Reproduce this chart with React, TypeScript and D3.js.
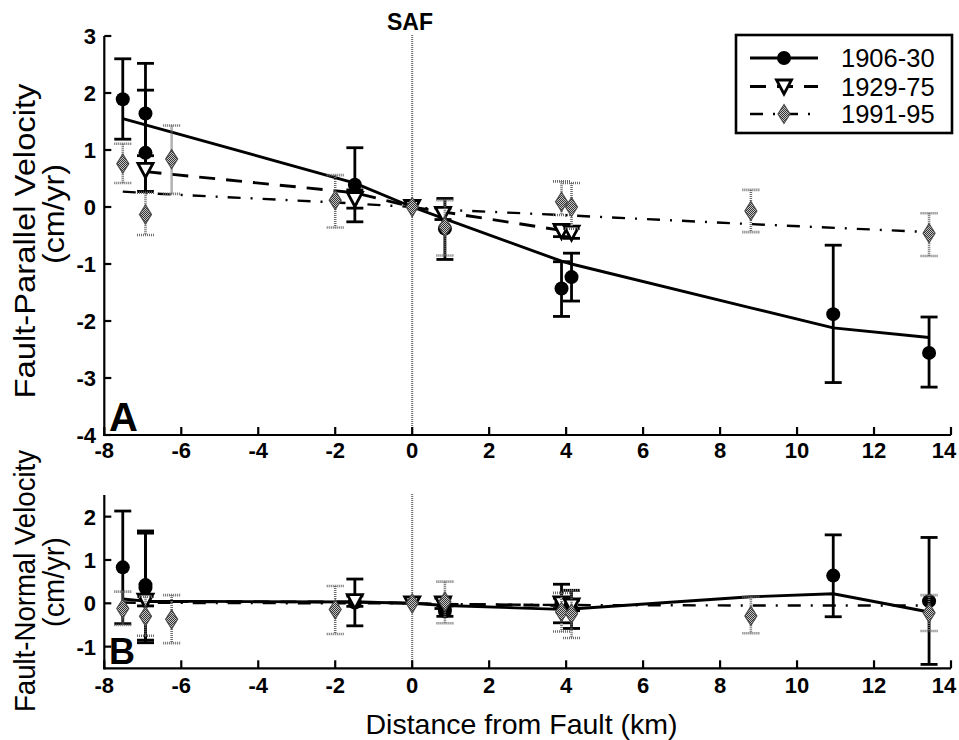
import React from "react";
import * as d3 from "d3";

const W = 959;
const H = 740;

// Station distances from the fault (km)
const x1906 = [-7.52, -6.93, -6.93, -1.49, 0.85, 3.88, 4.14, 10.94, 13.43];
const x1929 = [-6.93, -1.49, 0, 0.8, 3.88, 4.14];
const x1991 = [-7.52, -6.93, -6.25, -2.0, 0, 0.85, 3.88, 4.14, 8.8, 13.43];

// Fault-parallel velocity (cm/yr) and error bar ends
const par1906 = [1.89, 1.64, 0.95, 0.39, -0.38, -1.43, -1.23, -1.88, -2.56];
const par1906Lo = [1.19, 0.76, 0.27, -0.26, -0.92, -1.92, -1.65, -3.08, -3.16];
const par1906Hi = [2.6, 2.52, 2.05, 1.04, 0.15, -0.96, -0.81, -0.67, -1.93];
const par1929 = [0.65, 0.14, 0, -0.12, -0.42, -0.45];
const par1929Lo = [0.27, -0.02, 0, -0.22, -0.52, -0.55];
const par1929Hi = [0.9, 0.3, 0, -0.02, -0.32, -0.35];
const par1991 = [0.76, -0.13, 0.84, 0.12, 0, -0.35, 0.09, 0.0, -0.07, -0.46];
const par1991Lo = [0.42, -0.49, 0.23, -0.36, 0, -0.85, -0.14, -0.38, -0.44, -0.86];
const par1991Hi = [1.11, 0.25, 1.43, 0.56, 0, 0.12, 0.45, 0.42, 0.3, -0.11];

// Fault-normal velocity (cm/yr) and error bar ends
const norm1906 = [0.83, 0.42, 0.36, 0.02, -0.18, 0.0, -0.13, 0.64, 0.05];
const norm1906Lo = [-0.47, -0.85, -0.91, -0.52, -0.3, -0.45, -0.58, -0.31, -1.41];
const norm1906Hi = [2.13, 1.67, 1.62, 0.56, -0.06, 0.44, 0.3, 1.58, 1.52];
const norm1929 = [0.06, 0.05, 0, 0.0, 0.0, -0.05];
const norm1929Lo = [-0.06, -0.07, 0, -0.12, -0.12, -0.17];
const norm1929Hi = [0.18, 0.17, 0, 0.12, 0.12, 0.07];
const norm1991 = [-0.12, -0.3, -0.37, -0.14, 0, 0.04, -0.2, -0.24, -0.29, -0.22];
const norm1991Lo = [-0.5, -0.75, -0.92, -0.71, 0, -0.46, -0.65, -0.8, -0.69, -0.64];
const norm1991Hi = [0.27, 0.15, 0.19, 0.4, 0, 0.5, 0.24, 0.3, 0.15, 0.19];

// Model velocity profiles evaluated at the stations
const model1906X = [-7.52, -6.93, -1.49, 0, 0.85, 3.88, 4.14, 8.8, 10.94, 13.43];
const parModel1906 = [1.55, 1.44, 0.42, 0, -0.21, -0.95, -1.0, -1.77, -2.12, -2.29];
const normModel1906 = [0.1, 0.05, 0.03, 0, -0.05, -0.14, -0.13, 0.15, 0.22, -0.2];
const model1929X = [-6.93, -1.49, 0, 0.8, 3.88, 4.14];
const parModel1929 = [0.62, 0.25, 0, -0.085, -0.41, -0.44];
const normModel1929 = [0.04, 0.03, 0, -0.02, -0.05, -0.05];
const model1991X = [-7.52, -6.93, -6.25, -2.0, 0, 0.85, 3.88, 4.14, 8.8, 13.43];
const parModel1991 = [0.27, 0.245, 0.22, 0.08, 0, -0.05, -0.14, -0.15, -0.3, -0.44];
const normModel1991 = [0.02, 0.01, 0.01, 0, 0, -0.02, -0.04, -0.04, -0.05, -0.05];

const seriesNames = ["1906-30", "1929-75", "1991-95"];
const xDomain: [number, number] = [-8, 14];
const parDomain: [number, number] = [-4, 3];
const normDomain: [number, number] = [-1.5, 2.5];

const FONT = "'Liberation Sans', Arial, Helvetica, sans-serif";
const GRAY_BAR = "#6a6a6a";
const DASH_1929 = "16 11";
const DASH_1991 = "13 10 2 10";

type Series = {
  x: number[];
  y: number[];
  lo: number[];
  hi: number[];
  mx: number[];
  my: number[];
  kind: "circle" | "triangle" | "diamond";
  dash?: string;
  width: number;
};

const xScale = d3.scaleLinear().domain(xDomain).range([104.3, 951]);

function Marker({ kind, cx, cy }: { kind: Series["kind"]; cx: number; cy: number }) {
  if (kind === "circle") return <circle cx={cx} cy={cy} r={7} fill="#000" />;
  if (kind === "triangle")
    return (
      <path
        d={`M${cx - 7.5},${cy - 6.5}L${cx + 7.5},${cy - 6.5}L${cx},${cy + 7.5}Z`}
        fill="#fff"
        stroke="#000"
        strokeWidth={2.8}
        strokeLinejoin="miter"
      />
    );
  return (
    <path
      d={`M${cx},${cy - 9.5}L${cx + 6},${cy}L${cx},${cy + 9.5}L${cx - 6},${cy}Z`}
      fill="url(#halftone)"
      stroke="#4a4a4a"
      strokeWidth={1.2}
    />
  );
}

function ErrorBar({ kind, cx, y0, y1 }: { kind: Series["kind"]; cx: number; y0: number; y1: number }) {
  if (Math.abs(y0 - y1) < 0.5) return null;
  const gray = kind === "diamond";
  const stroke = gray ? GRAY_BAR : "#000";
  const dash = gray ? "1 1" : undefined;
  const cw = 8.5;
  const sw = gray ? 2.6 : 2.8;
  return (
    <g stroke={stroke} strokeDasharray={dash}>
      <line x1={cx} x2={cx} y1={y0} y2={y1} strokeWidth={sw} />
      <line x1={cx - cw} x2={cx + cw} y1={y0} y2={y0} strokeWidth={sw} />
      <line x1={cx - cw} x2={cx + cw} y1={y1} y2={y1} strokeWidth={sw} />
    </g>
  );
}

function Panel({
  domain,
  range,
  series,
  letter,
  letterSize,
  tickLabelBaseline,
}: {
  domain: [number, number];
  range: [number, number];
  series: Series[];
  letter: string;
  letterSize: number;
  tickLabelBaseline: number;
}) {
  const yScale = d3.scaleLinear().domain(domain).range(range);
  const [x0, x1] = xScale.range();
  const yBottom = range[0];
  const yTop = range[1];
  const yTicks = yScale.ticks(8).filter((t) => Number.isInteger(t));
  const xTicks = xScale.ticks(11);
  const line = d3
    .line<[number, number]>()
    .x((d) => xScale(d[0]))
    .y((d) => yScale(d[1]));

  return (
    <g>
      {/* fault trace */}
      <line
        x1={xScale(0)}
        x2={xScale(0)}
        y1={yTop - 1}
        y2={yBottom}
        stroke="#6a6a6a"
        strokeWidth={2}
        strokeDasharray="1 1"
      />
      {/* model profiles */}
      {series.map((s, i) => (
        <path
          key={`m${i}`}
          d={line(s.mx.map((v, j) => [v, s.my[j]] as [number, number])) || ""}
          fill="none"
          stroke="#000"
          strokeWidth={s.width}
          strokeDasharray={s.dash}
        />
      ))}
      {/* observations */}
      {series.map((s, i) => (
        <g key={`s${i}`}>
          {s.x.map((v, j) => (
            <ErrorBar key={`e${j}`} kind={s.kind} cx={xScale(v)} y0={yScale(s.hi[j])} y1={yScale(s.lo[j])} />
          ))}
          {s.x.map((v, j) => (
            <Marker key={`p${j}`} kind={s.kind} cx={xScale(v)} cy={yScale(s.y[j])} />
          ))}
        </g>
      ))}
      {/* axes */}
      <g stroke="#000" strokeWidth={2.2}>
        <line x1={x0} x2={x0} y1={yTop} y2={yBottom + 1} />
        <line x1={x0 - 1} x2={x1} y1={yBottom} y2={yBottom} />
        {yTicks.map((t) => (
          <line key={`yt${t}`} x1={x0} x2={x0 + 7} y1={yScale(t)} y2={yScale(t)} />
        ))}
        {xTicks.map((t) => (
          <line key={`xt${t}`} x1={xScale(t)} x2={xScale(t)} y1={yBottom} y2={yBottom - 8} />
        ))}
      </g>
      <g fontFamily={FONT} fontWeight="bold" fontSize={22} fill="#000">
        {yTicks.map((t) => (
          <text key={`yl${t}`} x={96} y={yScale(t)} dy="0.36em" textAnchor="end">
            {String(t)}
          </text>
        ))}
        {xTicks.map((t) => {
          const px = Math.min(xScale(t), W - 15);
          return (
            <text key={`xl${t}`} x={px} y={tickLabelBaseline} textAnchor="middle">
              {String(t)}
            </text>
          );
        })}
      </g>
      <text
        x={109}
        y={yBottom - 4}
        fontFamily={FONT}
        fontWeight="bold"
        fontSize={letterSize}
        fill="#000"
      >
        {letter}
      </text>
    </g>
  );
}

function Legend() {
  const left = 736;
  const top = 35;
  const rows = [58, 86.5, 114];
  const kinds: Series["kind"][] = ["circle", "triangle", "diamond"];
  const dashes = [undefined, DASH_1929, DASH_1991];
  const widths = [2.8, 2.8, 2.4];
  return (
    <g>
      <rect x={left} y={top} width={216} height={98} fill="#fff" stroke="#000" strokeWidth={2.6} />
      {seriesNames.map((name, i) => (
        <g key={name}>
          <line
            x1={750}
            x2={818}
            y1={rows[i]}
            y2={rows[i]}
            stroke="#000"
            strokeWidth={widths[i]}
            strokeDasharray={dashes[i]}
          />
          <Marker kind={kinds[i]} cx={784} cy={rows[i]} />
          <text x={841} y={rows[i] + 9} fontFamily={FONT} fontSize={25.5} fill="#000">
            {name}
          </text>
        </g>
      ))}
    </g>
  );
}

export default function App() {
  const parallelSeries: Series[] = [
    { x: x1906, y: par1906, lo: par1906Lo, hi: par1906Hi, mx: model1906X, my: parModel1906, kind: "circle", width: 2.9 },
    { x: x1929, y: par1929, lo: par1929Lo, hi: par1929Hi, mx: model1929X, my: parModel1929, kind: "triangle", dash: DASH_1929, width: 2.9 },
    { x: x1991, y: par1991, lo: par1991Lo, hi: par1991Hi, mx: model1991X, my: parModel1991, kind: "diamond", dash: DASH_1991, width: 2.4 },
  ];
  const normalSeries: Series[] = [
    { x: x1906, y: norm1906, lo: norm1906Lo, hi: norm1906Hi, mx: model1906X, my: normModel1906, kind: "circle", width: 2.9 },
    { x: x1929, y: norm1929, lo: norm1929Lo, hi: norm1929Hi, mx: model1929X, my: normModel1929, kind: "triangle", dash: DASH_1929, width: 2.9 },
    { x: x1991, y: norm1991, lo: norm1991Lo, hi: norm1991Hi, mx: model1991X, my: normModel1991, kind: "diamond", dash: DASH_1991, width: 2.4 },
  ];

  return (
    <svg
      width={W}
      height={H}
      viewBox={`0 0 ${W} ${H}`}
      style={{ position: "absolute", left: 0, top: 0, background: "#fff" }}
    >
      <defs>
        <pattern id="halftone" width="2" height="2" patternUnits="userSpaceOnUse">
          <rect width="2" height="2" fill="#c8c8c8" />
          <rect width="1" height="1" fill="#333" />
          <rect x="1" y="1" width="1" height="1" fill="#333" />
        </pattern>
      </defs>
      <rect width={W} height={H} fill="#fff" />

      <Panel
        domain={parDomain}
        range={[435, 36]}
        series={parallelSeries}
        letter="A"
        letterSize={40}
        tickLabelBaseline={458}
      />
      <Panel
        domain={normDomain}
        range={[668.3, 495]}
        series={normalSeries}
        letter="B"
        letterSize={36}
        tickLabelBaseline={693}
      />

      <text x={410} y={29.5} textAnchor="middle" fontFamily={FONT} fontWeight="bold" fontSize={23}>
        SAF
      </text>

      <Legend />

      {/* axis titles */}
      <g fontFamily={FONT} fill="#000" fontSize={30}>
        <text transform="translate(35,241) rotate(-90)" textAnchor="middle" textLength={315} lengthAdjust="spacingAndGlyphs">
          Fault-Parallel Velocity
        </text>
        <text transform="translate(64,214) rotate(-90)" textAnchor="middle" textLength={100} lengthAdjust="spacingAndGlyphs">
          (cm/yr)
        </text>
        <text transform="translate(35,581) rotate(-90)" textAnchor="middle" textLength={262} lengthAdjust="spacingAndGlyphs">
          Fault-Normal Velocity
        </text>
        <text transform="translate(64,582) rotate(-90)" textAnchor="middle" textLength={90} lengthAdjust="spacingAndGlyphs">
          (cm/yr)
        </text>
        <text x={521.5} y={734} textAnchor="middle" fontSize={28.5}>
          Distance from Fault (km)
        </text>
      </g>
    </svg>
  );
}
